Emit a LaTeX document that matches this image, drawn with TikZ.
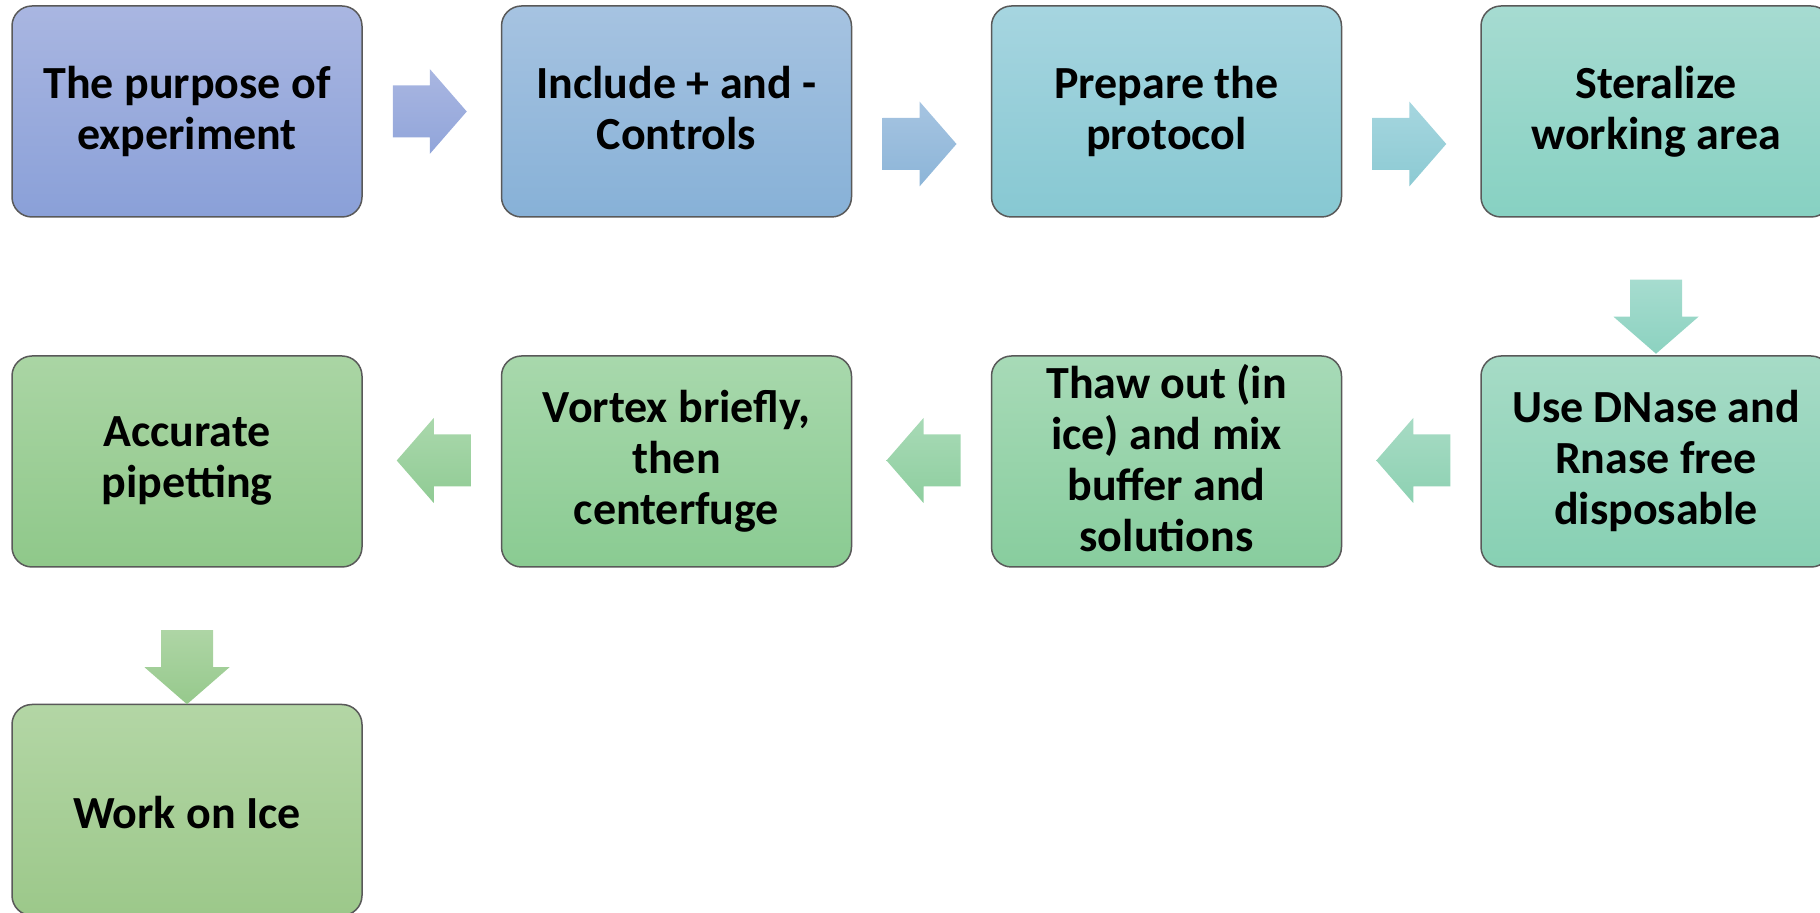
\documentclass[tikz,border=0pt]{standalone}
\usepackage{fontspec}
\setmainfont{Carlito}
\usetikzlibrary{calc}

\definecolor{bOnet}{HTML}{A9B6E1}\definecolor{bOneb}{HTML}{8AA0D8}
\definecolor{bTwot}{HTML}{A6C3E1}\definecolor{bTwob}{HTML}{87B1D7}
\definecolor{bThrt}{HTML}{A6D5E0}\definecolor{bThrb}{HTML}{87C8D2}
\definecolor{bFout}{HTML}{A6DBD1}\definecolor{bFoub}{HTML}{87D1C2}
\definecolor{bFivt}{HTML}{A6DBC6}\definecolor{bFivb}{HTML}{87D0B3}
\definecolor{bSixt}{HTML}{A7DAB7}\definecolor{bSixb}{HTML}{88CD9E}
\definecolor{bSevt}{HTML}{A8D8AC}\definecolor{bSevb}{HTML}{8ACB92}
\definecolor{bEigt}{HTML}{AAD5A4}\definecolor{bEigb}{HTML}{8FC88A}
\definecolor{bNint}{HTML}{B3D6A5}\definecolor{bNinb}{HTML}{9CC88A}
% arrow colours
\definecolor{aOnet}{HTML}{A9B6E1}\definecolor{aOneb}{HTML}{91A5DA}
\definecolor{aTwot}{HTML}{A6C4E1}\definecolor{aTwob}{HTML}{8CB5D8}
\definecolor{aThrt}{HTML}{A6D6DF}\definecolor{aThrb}{HTML}{8CCAD3}
\definecolor{aFout}{HTML}{A6DCCF}\definecolor{aFoub}{HTML}{8CD2C0}
\definecolor{aFivt}{HTML}{A7DBC4}\definecolor{aFivb}{HTML}{8DD1B2}
\definecolor{aSixt}{HTML}{A8DAB6}\definecolor{aSixb}{HTML}{8ECE9F}
\definecolor{aSevt}{HTML}{AAD8AC}\definecolor{aSevb}{HTML}{90CB94}
\definecolor{aEigt}{HTML}{AED5A5}\definecolor{aEigb}{HTML}{96C98C}

\newcommand\linestrut{\rule[-4pt]{0pt}{26.5pt}}

\begin{document}
\begin{tikzpicture}[x=0.5pt, y=-0.5pt,
  proc node/.style 2 args={draw=black!65, line width=0.75pt, rounded corners=10pt,
    minimum width=175pt, minimum height=105.5pt, inner sep=0pt, align=center,
    top color=#1, bottom color=#2, font=\bfseries\fontsize{23}{25.5}\selectfont,
    execute at begin node=\linestrut, execute at end node=\linestrut},
  pics/rarr/.style 2 args={code={\shade[top color=#1, bottom color=#2]
    (-37,-26) -- (0,-26) -- (0,-42.5) -- (37,0) -- (0,42.5) -- (0,26) -- (-37,26) -- cycle;}},
  pics/larr/.style 2 args={code={\shade[top color=#1, bottom color=#2]
    (37,-26) -- (0,-26) -- (0,-42.5) -- (-37,0) -- (0,42.5) -- (0,26) -- (37,26) -- cycle;}},
  pics/darr/.style 2 args={code={\shade[top color=#1, bottom color=#2]
    (-26,-37) -- (26,-37) -- (26,0) -- (42.5,0) -- (0,37) -- (-42.5,0) -- (-26,0) -- cycle;}}]
\useasboundingbox (0,0) rectangle (1820,913);

% first row
\node[proc node={bOnet}{bOneb}] (b1) at (187,111.5) {The purpose of\\experiment};
\node[proc node={bTwot}{bTwob}] (b2) at (676.5,111.5) {Include + and -\\Controls};
\node[proc node={bThrt}{bThrb}] (b3) at (1166.5,111.5) {Prepare the\\protocol};
\node[proc node={bFout}{bFoub}] (b4) at (1656,111.5) {Steralize\\working area};
% second row
\node[proc node={bFivt}{bFivb}] (b5) at (1656,461.5) {Use DNase and\\Rnase free\\disposable};
\node[proc node={bSixt}{bSixb}] (b6) at (1166.5,461.5) {Thaw out (in\\ice) and mix\\buffer and\\solutions};
\node[proc node={bSevt}{bSevb}] (b7) at (676.5,461.5) {Vortex briefly,\\then\\centerfuge};
\node[proc node={bEigt}{bEigb}] (b8) at (187,461.5) {Accurate\\pipetting};
% third row
\node[proc node={bNint}{bNinb}] (b9) at (187,810) {Work on Ice};

% block arrows
\pic at ($(b1.east)!0.5!(b2.west)+(-2,0)$) {rarr={aOnet}{aOneb}};
\pic at ($(b2.east)!0.5!(b3.west)+(-2,32.5)$) {rarr={aTwot}{aTwob}};
\pic at ($(b3.east)!0.5!(b4.west)+(-2,32.5)$) {rarr={aThrt}{aThrb}};
\pic at ($(b4.south)+(0,99)$) {darr={aFout}{aFoub}};
\pic at ($(b5.west)!0.5!(b6.east)+(2,-1)$) {larr={aFivt}{aFivb}};
\pic at ($(b6.west)!0.5!(b7.east)+(2,-1)$) {larr={aSixt}{aSixb}};
\pic at ($(b7.west)!0.5!(b8.east)+(2,-1)$) {larr={aSevt}{aSevb}};
\pic at ($(b8.south)+(0,99.5)$) {darr={aEigt}{aEigb}};
\end{tikzpicture}
\end{document}
